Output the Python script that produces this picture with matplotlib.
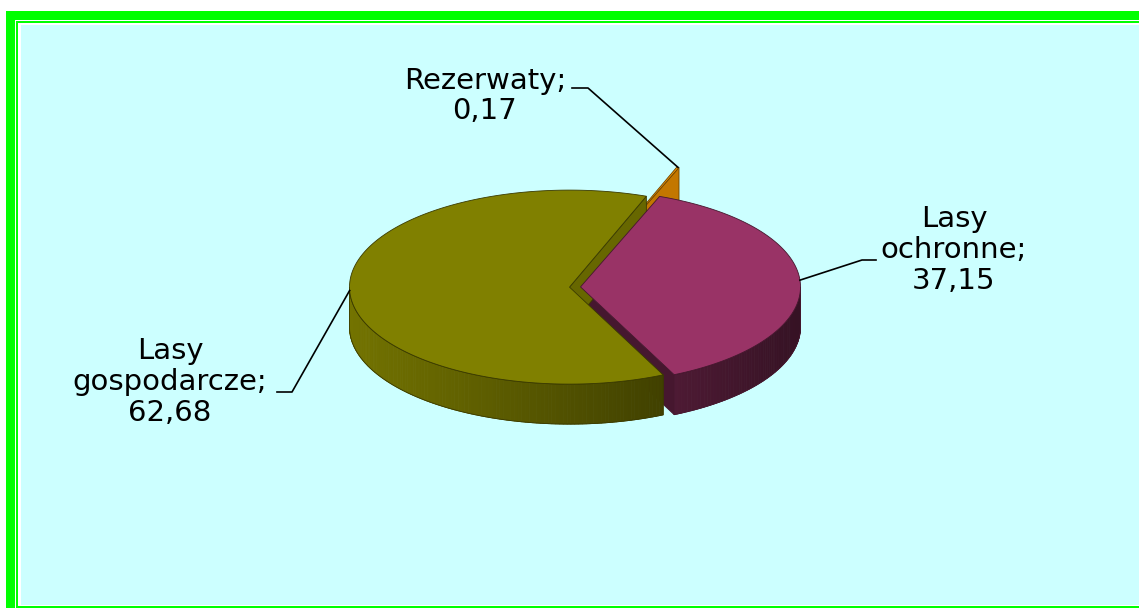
import matplotlib.pyplot as plt
import numpy as np
from matplotlib.colors import to_rgb
from matplotlib.patches import Polygon, Rectangle

# Data (counter-clockwise from the start angle)
categories = ["Lasy ochronne", "Rezerwaty", "Lasy gospodarcze"]
shares = [37.15, 0.17, 62.68]
colors = ["#993366", "#F29400", "#808000"]
explode = [0.025, 0.32, 0.025]

# label text centre and leader line (elbow, end) in pixels
label_pos = [(954, 250), (485, 96), (170, 382)]
leader_angle = [4, None, 182]
leader_path = [[(862, 260), (876, 260)],
               [(588, 88), (572, 88)],
               [(292, 392), (277, 392)]]

START = -64.8
CX, CY, RX, RY, DEPTH = 575, 287, 220, 97, 40
W, H = 1139, 608

fig = plt.figure(figsize=(W / 100, H / 100), dpi=100)
fig.patch.set_facecolor("white")
ax = fig.add_axes([0, 0, 1, 1])
ax.set_xlim(0, W)
ax.set_ylim(H, 0)
ax.axis("off")

# frame
ax.add_patch(Rectangle((6, 11), W, H, facecolor="#00FF00", edgecolor="none"))
ax.add_patch(Rectangle((15, 20), W, H, facecolor="white", edgecolor="none"))
ax.add_patch(Rectangle((16, 21), W, H, facecolor="#00FF00", edgecolor="none"))
ax.add_patch(Rectangle((18, 23), W, 606 - 23, facecolor="white", edgecolor="none"))
ax.add_patch(Rectangle((21, 25), W, 605 - 25, facecolor="#CCFFFF", edgecolor="none"))


def pt(t, r, ox, oy, z=0.0):
    t = np.radians(t)
    return (CX + ox + r * RX * np.cos(t), CY + oy - r * RY * np.sin(t) + z)


def shade(c, f):
    return tuple(min(1, v * f) for v in to_rgb(c))


bounds = START + 360 * np.concatenate([[0], np.cumsum(shares)]) / np.sum(shares)
anchors = {}
geom = {}
for i in range(len(shares)):
    a0, a1 = bounds[i], bounds[i + 1]
    mid = (a0 + a1) / 2
    ox = explode[i] * RX * np.cos(np.radians(mid))
    oy = -explode[i] * RY * np.sin(np.radians(mid))
    geom[i] = (a0, a1, ox, oy)
    ang = leader_angle[i] if leader_angle[i] is not None else mid
    anchors[i] = pt(ang, 1, ox, oy)


def draw_sides(i):
    a0, a1, ox, oy = geom[i]
    col = colors[i]
    edge = shade(col, 0.45)
    # radial cut faces facing the viewer
    for a, s in ((a0, 1), (a1, -1)):
        if s * np.cos(np.radians(a)) > 0:
            n = np.radians(a - 90 * s)
            f = 0.63 + 0.19 * np.cos(n)
            face = [pt(a, 0, ox, oy), pt(a, 1, ox, oy),
                    pt(a, 1, ox, oy, DEPTH), pt(a, 0, ox, oy, DEPTH)]
            ax.add_patch(Polygon(face, closed=True, facecolor=shade(col, f),
                                 edgecolor=edge, lw=0.6, zorder=3))
    # outer wall (front half only)
    for k in (-1, 0, 1):
        lo, hi = max(a0, 180 + 360 * k), min(a1, 360 + 360 * k)
        if hi <= lo:
            continue
        ts = np.linspace(lo, hi, int(hi - lo) + 2)
        for t1, t2 in zip(ts[:-1], ts[1:]):
            c = np.cos(np.radians((t1 + t2) / 2))
            f = 0.9 - 0.55 * (c + 1) / 2
            strip = [pt(t1, 1, ox, oy), pt(t2, 1, ox, oy),
                     pt(t2, 1, ox, oy, DEPTH), pt(t1, 1, ox, oy, DEPTH)]
            ax.add_patch(Polygon(strip, closed=True, facecolor=shade(col, f),
                                 edgecolor=shade(col, f), lw=0.6, zorder=3))
        outline = [pt(t, 1, ox, oy) for t in ts] + \
                  [pt(t, 1, ox, oy, DEPTH) for t in ts[::-1]]
        ax.add_patch(Polygon(outline, closed=True, facecolor="none",
                             edgecolor=edge, lw=0.6, zorder=3))


def draw_top(i):
    a0, a1, ox, oy = geom[i]
    col = colors[i]
    ts = np.linspace(a0, a1, max(3, int((a1 - a0) * 2)))
    top = [pt(a0, 0, ox, oy)] + [pt(t, 1, ox, oy) for t in ts]
    ax.add_patch(Polygon(top, closed=True, facecolor=col,
                         edgecolor=shade(col, 0.45), lw=0.6, zorder=3))


# painter's order: back slice first, then sides, then tops
draw_sides(1)
draw_top(1)
draw_sides(0)
draw_sides(2)
draw_top(2)
draw_top(0)

# labels and leader lines
for i, name in enumerate(categories):
    value = f"{shares[i]:.2f}".replace(".", ",")
    text = name.replace(" ", "\n") + ";\n" + value
    ax.text(label_pos[i][0], label_pos[i][1], text, ha="center", va="center",
            fontsize=21, family="DejaVu Sans", color="black",
            linespacing=1.12, zorder=5)
    xs = [anchors[i][0]] + [p[0] for p in leader_path[i]]
    ys = [anchors[i][1]] + [p[1] for p in leader_path[i]]
    ax.plot(xs, ys, color="black", lw=1.2, zorder=4)

fig.savefig("out.png", dpi=100)
